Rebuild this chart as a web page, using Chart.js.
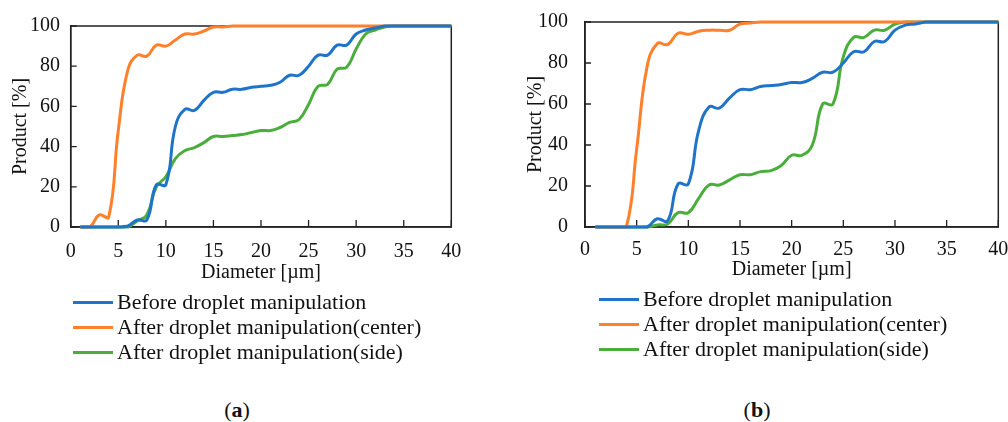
<!DOCTYPE html>
<html>
<head>
<meta charset="utf-8">
<script src="https://cdn.jsdelivr.net/npm/chart.js@4.4.1/dist/chart.umd.min.js"></script>
<style>
  body { margin: 0; background: #fff; font-family: "Liberation Serif", serif; }
  #wrap { position: relative; width: 1008px; height: 422px; overflow: hidden; }
  canvas { position: absolute; }
  .leg { position: absolute; height: 24px; line-height: 24px; font-size: 22px; color: #111; white-space: nowrap; }
  .leg span.ln { position: absolute; top: 11px; height: 3px; width: 40px; }
  .cap { position: absolute; font-size: 22px; color: #111; transform: translate(-50%, -50%); }
</style>
</head>
<body>
<div id="wrap">
  <canvas id="chartA" width="480" height="290" style="left:0px; top:0px"></canvas>
  <canvas id="chartB" width="510" height="300" style="left:515px; top:-10px"></canvas>
  <div id="legA"></div>
  <div id="legB"></div>
  <div class="cap" style="left:237px; top:410px">(<b>a</b>)</div>
  <div class="cap" style="left:757px; top:410px">(<b>b</b>)</div>
</div>
<script>
const diameters = [1, 2, 3, 4, 5, 6, 7, 8, 9, 10, 11, 12, 13, 14, 15, 16, 17, 18, 19, 20,
  21, 22, 23, 24, 25, 26, 27, 28, 29, 30, 31, 32, 33, 34, 35, 36, 37, 38, 39, 40];

const seriesNames = [
  "Before droplet manipulation",
  "After droplet manipulation(center)",
  "After droplet manipulation(side)"
];
const seriesColors = ["#1f73c9", "#ff7f2a", "#4aad3c"];

// (a)
const beforeA = [0, 0, 0, 0, 0, 0.5, 3.5, 3.5, 21, 21, 50, 58.5, 58, 63, 67, 67, 68.5, 68.5, 69.5, 70,
  70.5, 72, 75.5, 75.5, 80, 85.5, 85.5, 90.5, 90.5, 96, 98, 99, 100, 100, 100, 100, 100, 100, 100, 100];
const centerA = [0, 0, 6, 5, 48, 78, 85.5, 85, 90.5, 90, 93, 96, 96, 97.5, 99.5, 99.5, 100, 100, 100, 100,
  100, 100, 100, 100, 100, 100, 100, 100, 100, 100, 100, 100, 100, 100, 100, 100, 100, 100, 100, 100];
const sideA = [0, 0, 0, 0, 0, 0, 3, 6, 20, 25, 34, 38, 39.5, 42, 45, 45, 45.5, 46, 47, 48,
  48, 49.5, 52, 53.5, 61, 70, 71, 78.5, 79.5, 88.5, 96, 98, 99.5, 100, 100, 100, 100, 100, 100, 100];

// (b)
const beforeB = [0, 0, 0, 0, 0, 0, 4, 3, 21, 21, 47, 58.5, 58, 63, 67, 67, 68.5, 69, 69.5, 70.5,
  70.5, 72.5, 75.5, 75.5, 80, 85.5, 85.5, 90.5, 90.5, 96, 98.5, 99, 100, 100, 100, 100, 100, 100, 100, 100];
const centerB = [0, 0, 0, 0, 38, 78, 89.5, 89, 94.5, 94, 95.5, 96, 96, 96, 99, 99.5, 100, 100, 100, 100,
  100, 100, 100, 100, 100, 100, 100, 100, 100, 100, 100, 100, 100, 100, 100, 100, 100, 100, 100, 100];
const sideB = [0, 0, 0, 0, 0, 0, 1, 1.5, 7, 7, 14, 20.5, 20.5, 23, 25.5, 25.5, 27, 27.5, 30, 35,
  35, 40, 60, 60, 83, 92.5, 92.5, 96, 96, 99, 100, 100, 100, 100, 100, 100, 100, 100, 100, 100];

const fontFam = "'Liberation Serif', serif";

// box round the plot area plus inward tick marks, under the lines
const boxPlugin = {
  id: 'box',
  beforeDatasetsDraw(chart) {
    const a = chart.chartArea;
    const ctx = chart.ctx;
    ctx.save();
    ctx.strokeStyle = '#222';
    ctx.lineWidth = 1.5;
    ctx.strokeRect(a.left, a.top, a.right - a.left, a.bottom - a.top);
    ctx.lineWidth = 1.3;
    ctx.beginPath();
    chart.scales.x.ticks.forEach(t => {
      const px = chart.scales.x.getPixelForValue(t.value);
      ctx.moveTo(px, a.bottom);
      ctx.lineTo(px, a.bottom - 7);
    });
    chart.scales.y.ticks.forEach(t => {
      const py = chart.scales.y.getPixelForValue(t.value);
      ctx.moveTo(a.left, py);
      ctx.lineTo(a.left + 6, py);
    });
    ctx.stroke();
    ctx.restore();
  }
};

function makeChart(id, values, cfg) {
  const datasets = values.map((v, i) => ({
    label: seriesNames[i],
    data: diameters.map((d, k) => ({ x: d, y: v[k] })),
    borderColor: seriesColors[i],
    borderWidth: 3,
    pointRadius: 0,
    tension: 0.45,
    fill: false,
    clip: 4
  }));
  const chart = new Chart(document.getElementById(id), {
    type: 'line',
    data: { datasets: datasets },
    plugins: [boxPlugin],
    options: {
      responsive: false,
      animation: false,
      layout: { padding: { top: cfg.box.top, right: 20, left: 0, bottom: 0 } },
      plugins: { legend: { display: false }, tooltip: { enabled: false } },
      scales: {
        x: {
          type: 'linear',
          min: 0, max: 40,
          afterFit: (s) => { s.height = cfg.xHeight; },
          ticks: { stepSize: 5, color: '#111', padding: cfg.xPad, font: { family: fontFam, size: 20 } },
          grid: { drawOnChartArea: false, drawTicks: false },
          border: { display: true, color: '#222', width: 1.5 },
          title: { display: true, text: 'Diameter [µm]', color: '#111', font: { family: fontFam, size: 20 },
                   padding: { top: 0, bottom: cfg.xTitlePad } }
        },
        y: {
          min: 0, max: 100,
          afterFit: (s) => { s.width = cfg.yWidth; },
          ticks: { stepSize: 20, color: '#111', padding: cfg.yPad, font: { family: fontFam, size: 20 } },
          grid: { drawOnChartArea: false, drawTicks: false },
          border: { display: true, color: '#222', width: 1.5 },
          title: { display: true, text: 'Product [%]', color: '#111', font: { family: fontFam, size: 20 },
                   padding: { top: 9, bottom: 0 } }
        }
      }
    }
  });
  // nudge the layout until the plot box sits where the figure has it
  for (let i = 0; i < 3; i++) {
    const a = chart.chartArea;
    const p = chart.options.layout.padding;
    p.top += cfg.box.top - a.top;
    p.right += a.right - cfg.box.right;
    cfg.yWidth += cfg.box.left - a.left;
    cfg.xHeight += a.bottom - cfg.box.bottom;
    chart.update();
  }
  return chart;
}

makeChart('chartA', [beforeA, centerA, sideA],
  { yWidth: 70.7, xHeight: 63, xPad: 13, xTitlePad: 5, yPad: 10.7,
    box: { left: 70.7, right: 451.3, top: 26, bottom: 227 } });
makeChart('chartB', [beforeB, centerB, sideB],
  { yWidth: 70, xHeight: 63, xPad: 11, xTitlePad: 8, yPad: 17,
    box: { left: 70, right: 483.3, top: 32, bottom: 237 } });

function buildLegend(elId, lineLeft, rowsY) {
  const el = document.getElementById(elId);
  seriesNames.forEach((name, i) => {
    const row = document.createElement('div');
    row.className = 'leg';
    row.style.left = lineLeft + 'px';
    row.style.top = (rowsY[i] - 12) + 'px';
    row.style.paddingLeft = '44px';
    const ln = document.createElement('span');
    ln.className = 'ln';
    ln.style.left = '0px';
    ln.style.background = seriesColors[i];
    row.appendChild(ln);
    row.appendChild(document.createTextNode(name));
    el.appendChild(row);
  });
}
buildLegend('legA', 73, [302, 327, 352]);
buildLegend('legB', 599, [299, 324, 349]);
</script>
</body>
</html>
